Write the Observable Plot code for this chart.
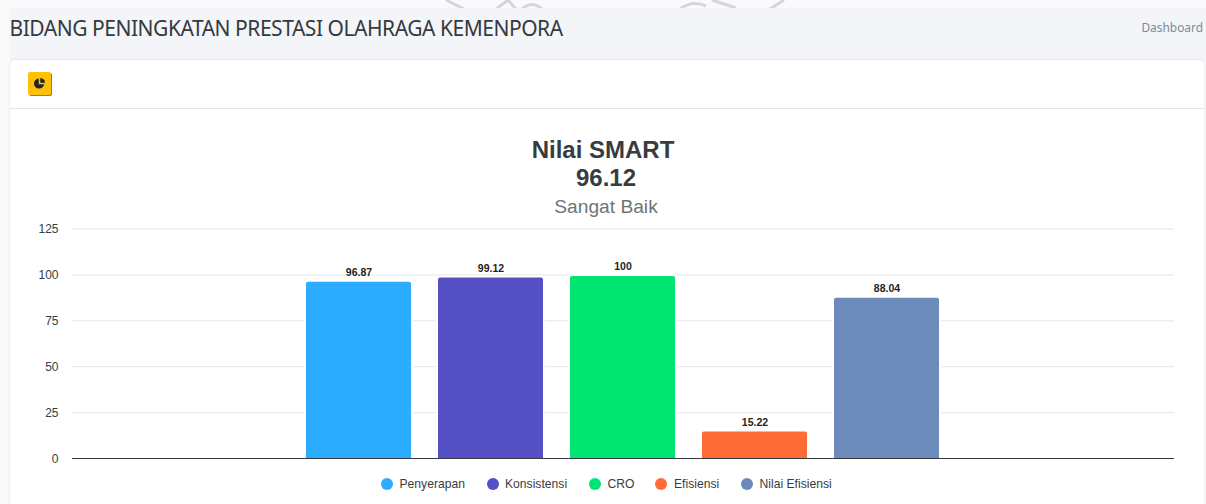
<!DOCTYPE html>
<html>
<head>
<meta charset="utf-8">
<script src="https://cdn.jsdelivr.net/npm/d3@7"></script>
<script src="https://cdn.jsdelivr.net/npm/@observablehq/plot@0.6"></script>
<style>
html,body{margin:0;padding:0;width:1206px;height:504px;overflow:hidden;background:#fafafa;}
#mark{position:absolute;left:340px;top:0;}
#strip{position:absolute;left:9px;top:8px;width:1197px;height:52px;background:#f3f5f9;}
#heading{position:absolute;left:9.5px;top:13.5px;font:21px "Noto Sans",sans-serif;color:#343a40;white-space:nowrap;letter-spacing:-0.47px;}
#crumb{position:absolute;right:3px;top:18.5px;font:11.9px "Noto Sans",sans-serif;color:#7b8a97;white-space:nowrap;}
#card{position:absolute;left:10px;top:60px;width:1194px;height:460px;background:#fff;border-radius:5px 5px 0 0;box-shadow:0 0 2px rgba(0,0,0,.18);}
#cardline{position:absolute;left:10px;top:108px;width:1194px;height:1px;background:#e3e4e6;}
#icon{position:absolute;left:28px;top:72px;width:23px;height:23px;background:#ffc107;border-radius:2px;box-shadow:1px 1px 0 #a88000;}
#icon svg{position:absolute;left:5px;top:5px;}
.t{position:absolute;left:0;width:1206px;text-align:center;font-family:"Liberation Sans",sans-serif;white-space:nowrap;}
#t1{top:136px;font-size:24px;font-weight:700;color:#373d3f;}
#t2{top:164px;left:3px;font-size:24px;font-weight:700;color:#373d3f;}
#t3{top:195.5px;left:3px;font-size:19.2px;color:#6f7478;}
#chart{position:absolute;left:0;top:215px;}
#chart svg{display:block;}
.leg{position:absolute;top:477px;font:12.15px/14px "Liberation Sans",sans-serif;color:#373d3f;white-space:nowrap;}
.dot{position:absolute;top:478px;width:12px;height:12px;border-radius:50%;}
</style>
</head>
<body>
<svg id="mark" width="480" height="8" viewBox="0 0 480 8"><g fill="none" stroke="#c9c9d6" stroke-width="3" opacity=".75" style="filter:blur(.6px)"><path d="M106 0L124 9"/><path d="M156 9L168 0L176 9"/><path d="M182 9Q192 0 202 9"/><path d="M340 9Q352 0 366 6"/><path d="M372 0L396 8"/><path d="M430 9L444 0"/></g></svg>
<div id="strip"></div>
<div id="heading">BIDANG PENINGKATAN PRESTASI OLAHRAGA KEMENPORA</div>
<div id="crumb">Dashboard</div>
<div id="card"></div>
<div id="cardline"></div>
<div id="icon"><svg width="13" height="13" viewBox="0 0 14 14"><path d="M6.2 1.5A5.5 5.5 0 1 0 12 7.8H6.2Z" fill="#23272b"/><path d="M7.8 1A5.3 5.3 0 0 1 13 6.2H7.8Z" fill="#23272b"/></svg></div>
<div class="t" id="t1">Nilai SMART</div>
<div class="t" id="t2">96.12</div>
<div class="t" id="t3">Sangat Baik</div>
<div id="chart"></div>
<div id="legend"></div>
<script>
const categories = ["Penyerapan", "Konsistensi", "CRO", "Efisiensi", "Nilai Efisiensi"];
const values = [96.87, 99.12, 100, 15.22, 88.04];
const colors = ["#2bacff", "#5650c6", "#00e571", "#ff6b36", "#6c8aba"];
const yTicks = [0, 25, 50, 75, 100, 125];
const legendDotX = [381, 487, 589, 655, 741];
const legendTextX = [399.5, 505, 607.5, 674, 759.5];

const data = categories.map((name, i) => ({name, value: values[i]}));

const plot = Plot.plot({
  width: 1206,
  height: 255,
  marginLeft: 72,
  marginRight: 32,
  marginTop: 13.5,
  marginBottom: 12,
  style: {background: "transparent", fontFamily: "Liberation Sans, sans-serif", overflow: "visible"},
  x: {type: "band", domain: categories, range: [279.8, 966.2], padding: 0.188, axis: null},
  y: {domain: [0, 125], axis: null},
  color: {domain: categories, range: colors},
  marks: [
    Plot.ruleY(yTicks.slice(1), {stroke: "#e6e6e6", strokeWidth: 1}),
    Plot.barY(data, {x: "name", y: "value", fill: "name", stroke: "#fff", strokeWidth: 2, ry1: 3, rx1y1: 3, rx2y1: 3, insetBottom: -1, insetTop: 0.5}),
    Plot.ruleY([0], {stroke: "#343a40", strokeWidth: 1}),
    Plot.axisY({ticks: yTicks, tickSize: 0, tickPadding: 0, anchor: "left", dx: -14, dy: 0.5, fontSize: 12, color: "#373d3f", tickFormat: d => String(d), label: null}),
    Plot.text(data, {x: "name", y: "value", text: d => String(d.value), dy: -8, fontSize: 10.5, fontWeight: 700, fill: "#1f2326"})
  ]
});
document.getElementById("chart").appendChild(plot);

const legend = document.getElementById("legend");
categories.forEach((name, i) => {
  const dot = document.createElement("div");
  dot.className = "dot";
  dot.style.left = legendDotX[i] + "px";
  dot.style.background = colors[i];
  legend.appendChild(dot);
  const label = document.createElement("div");
  label.className = "leg";
  label.style.left = legendTextX[i] + "px";
  label.textContent = name;
  legend.appendChild(label);
});
</script>
</body>
</html>
